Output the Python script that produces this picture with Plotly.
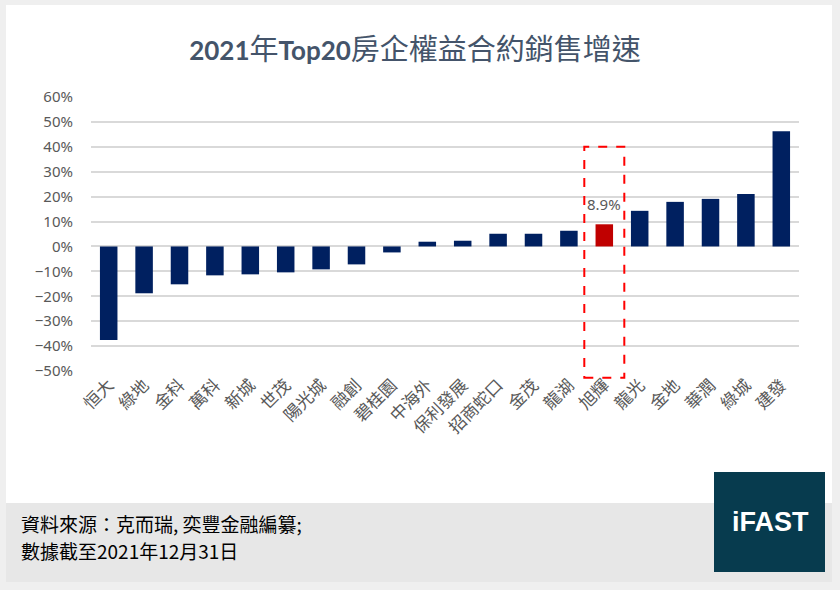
import plotly.graph_objects as go

# ---- data ----
categories = ["恒大", "綠地", "金科", "萬科", "新城", "世茂", "陽光城", "融創", "碧桂園", "中海外",
              "保利發展", "招商蛇口", "金茂", "龍湖", "旭輝", "龍光", "金地", "華潤", "綠城", "建發"]
growth = [-0.376, -0.188, -0.152, -0.116, -0.112, -0.104, -0.092, -0.072, -0.024, 0.019,
          0.023, 0.051, 0.051, 0.063, 0.089, 0.143, 0.179, 0.191, 0.211, 0.463]
highlight = "旭輝"
y_ticks = [-0.5, -0.4, -0.3, -0.2, -0.1, 0.0, 0.1, 0.2, 0.3, 0.4, 0.5, 0.6]
title_text = "<span style='font-size:26px'><b>2021</b></span>年<span style='font-size:26px'><b>Top20</b></span>房企權益合約銷售增速"
source_line1 = "資料來源：克而瑞, 奕豐金融編纂;"
source_line2 = "數據截至2021年12月31日"
logo_text = "iFAST"

# ---- layout geometry (pixels) ----
W, H = 840, 590
PL, PR, PT, PB = 91, 799, 97, 371
pw, ph = PR - PL, PB - PT


def px(x):
    return (x - PL) / pw


def py(y):
    return (PB - y) / ph


NAVY = "#002060"
RED = "#C00000"
colors = [RED if c == highlight else NAVY for c in categories]

fig = go.Figure()
fig.add_trace(go.Bar(
    x=categories, y=growth, marker=dict(color=colors, line=dict(width=0)),
    hoverinfo="x+y", showlegend=False,
))

hi = categories.index(highlight)
n = len(categories)
y0, y1 = y_ticks[0], y_ticks[-1]

shapes = [
    # outer frame + white card
    dict(type="rect", xref="paper", yref="paper", x0=px(0), x1=px(W), y0=py(H), y1=py(0),
         fillcolor="#EFEFEF", line=dict(width=0), layer="below"),
    dict(type="rect", xref="paper", yref="paper", x0=px(6), x1=px(832), y0=py(582), y1=py(5),
         fillcolor="#FFFFFF", line=dict(width=0), layer="below"),
    # footer band
    dict(type="rect", xref="paper", yref="paper", x0=px(6), x1=px(832), y0=py(582), y1=py(503),
         fillcolor="#E7E7E7", line=dict(width=0), layer="below"),
    # logo box
    dict(type="rect", xref="paper", yref="paper", x0=px(714), x1=px(825), y0=py(572), y1=py(472),
         fillcolor="#073B4E", line=dict(width=0), layer="above"),
    # highlight dashed box around the highlighted bar
    dict(type="rect", xref="x domain", yref="y domain",
         x0=(hi + 0.5 - 0.565) / n, x1=(hi + 0.5 + 0.565) / n,
         y0=(-0.527 - y0) / (y1 - y0), y1=(0.4 - y0) / (y1 - y0),
         line=dict(color="#FF0000", width=2, dash="dash"), fillcolor="rgba(0,0,0,0)", layer="above"),
]

annotations = [
    dict(x=highlight, y=growth[hi], xref="x", yref="y", text=f"{growth[hi]*100:.1f}%",
         showarrow=False, yanchor="bottom", yshift=8,
         font=dict(family="Noto Sans, 'Noto Sans CJK TC'", size=15, color="#595959")),
    dict(x=px(19), y=py(523), xref="paper", yref="paper", text=source_line1, showarrow=False,
         xanchor="left", yanchor="middle",
         font=dict(family="'Noto Sans CJK TC'", size=19, color="#000000")),
    dict(x=px(19), y=py(550), xref="paper", yref="paper", text=source_line2, showarrow=False,
         xanchor="left", yanchor="middle",
         font=dict(family="'Noto Sans CJK TC'", size=19, color="#000000")),
    dict(x=px(770), y=py(522), xref="paper", yref="paper", text=f"<b>{logo_text}</b>", showarrow=False,
         xanchor="center", yanchor="middle",
         font=dict(family="Liberation Sans, Arial", size=27, color="#FFFFFF")),
]

fig.update_layout(
    width=W, height=H,
    margin=dict(l=PL, r=W - PR, t=PT, b=H - PB, autoexpand=False),
    paper_bgcolor="#FFFFFF", plot_bgcolor="rgba(0,0,0,0)",
    bargap=0.505,
    title=dict(text=title_text, x=415 / W, xanchor="center", y=1 - 50 / H, yanchor="middle",
               xref="container", yref="container",
               font=dict(family="Lato, 'Noto Sans CJK TC'", size=29, color="#44546A")),
    xaxis=dict(tickangle=-45, showgrid=False, showline=False, zeroline=False, ticks="",
               tickfont=dict(family="'Noto Sans CJK TC'", size=17, color="#595959"),
               automargin=False, fixedrange=True),
    yaxis=dict(range=[y0, y1], tickvals=y_ticks, tickformat=".0%", showgrid=True,
               gridcolor="#D9D9D9", gridwidth=1.5, zeroline=False, showline=False, ticks="",
               ticklabelstandoff=17,
               tickfont=dict(family="Noto Sans, 'Open Sans'", size=15, color="#595959"),
               automargin=False, fixedrange=True),
    shapes=shapes,
    annotations=annotations,
)

fig.write_html(
    "out.html",
    config={"displayModeBar": False},
    post_script="document.body.style.margin='0';document.body.style.overflow='hidden';",
)
